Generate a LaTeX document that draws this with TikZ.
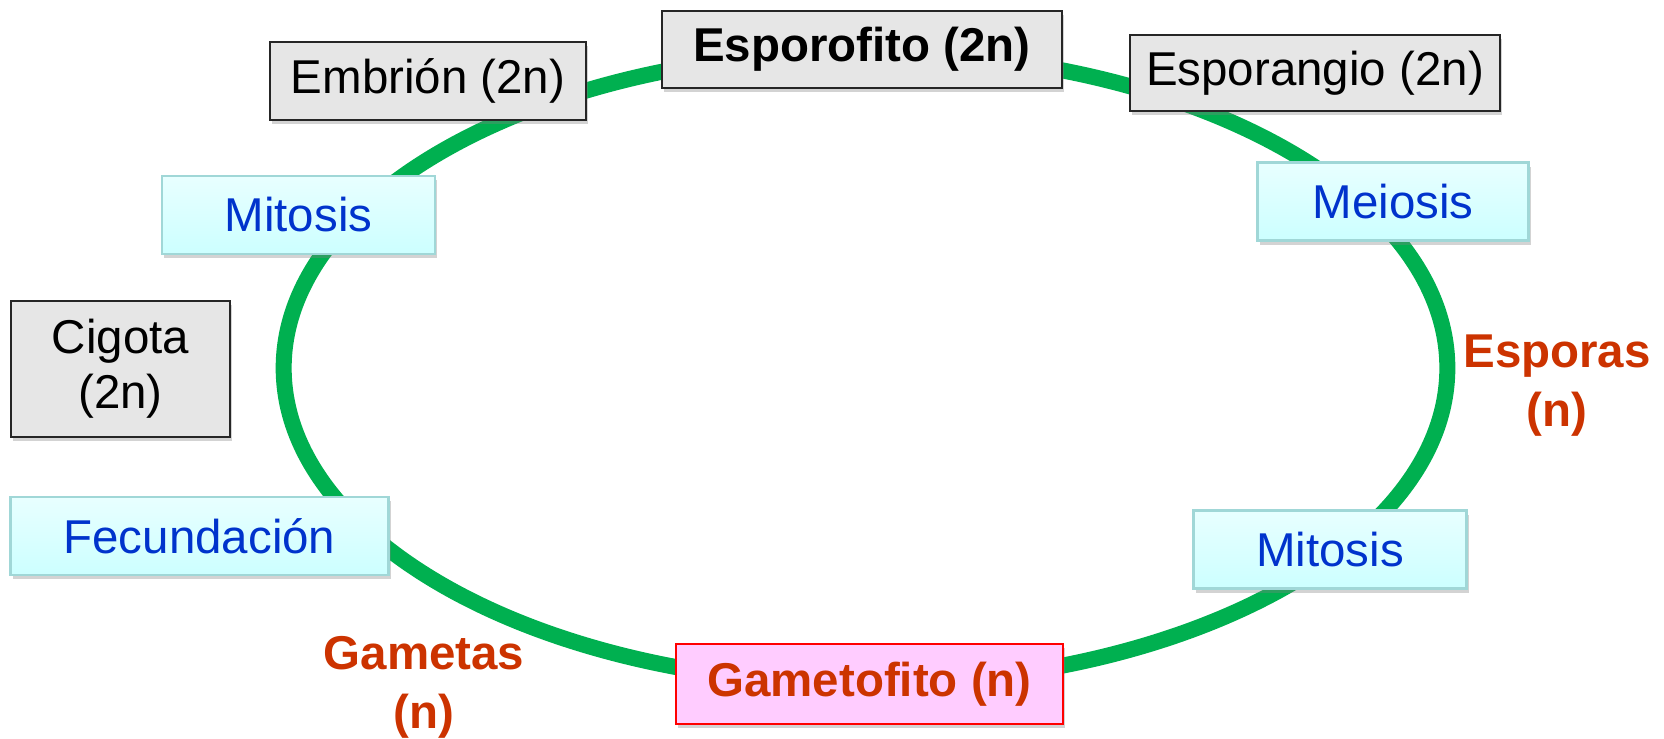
\documentclass[tikz,border=0pt]{standalone}
\usepackage{fontspec}
\setmainfont{Liberation Sans}
\usetikzlibrary{shadows}
\definecolor{verdeciclo}{RGB}{0,176,80}
\definecolor{gris}{RGB}{230,230,230}
\definecolor{cianA}{RGB}{232,255,255}
\definecolor{cianB}{RGB}{204,255,255}
\definecolor{bordecian}{RGB}{160,215,215}
\definecolor{azul}{RGB}{0,51,204}
\definecolor{rojo}{RGB}{204,51,0}
\definecolor{rosa}{RGB}{255,204,255}

\begin{document}
\begin{tikzpicture}[x=0.01cm,y=-0.01cm] %% 1 unit = 1 px
	\tikzstyle{caja}=[draw=black!85,line width=0.7pt,fill=gris,inner sep=0pt,font=\fontsize{13.5}{15.6}\selectfont,drop shadow={shadow xshift=0.6pt,shadow yshift=-1.2pt,opacity=0.35}];
	\tikzstyle{proceso}=[caja,draw=bordecian,top color=cianA,bottom color=cianB,text=azul,minimum width=2.73cm,minimum height=0.78cm];
	\tikzstyle{etiqueta}=[text=rojo,font=\bfseries\fontsize{13.5}{16.8}\selectfont,align=center,inner sep=0pt];
	\useasboundingbox (0,0) rectangle (1664,738);
	%% the cycle
	\coordinate (centro) at (865.5,368);
	\draw[verdeciclo,line width=4.55pt] (centro) ellipse [x radius=5.815cm,y radius=3.16cm];
	%% phases (2n)
	\node[caja,minimum width=4cm,minimum height=0.77cm,font=\bfseries\fontsize{13.5}{15.6}\selectfont] (esporofito) at (862,49.5) {Esporofito (2n)};
	\node[caja,minimum width=3.16cm,minimum height=0.78cm] (embrion) at (428,81) {Embrión (2n)};
	\node[caja,minimum width=3.7cm,minimum height=0.76cm] (esporangio) at (1315,73) {Esporangio (2n)};
	\node[caja,minimum width=2.19cm,minimum height=1.36cm,align=center] (cigota) at (120.5,369) {Cigota\\(2n)};
	%% processes
	\node[proceso] (mitosisizq) at (298.5,215) {Mitosis};
	\node[proceso,minimum width=2.71cm] (meiosis) at (1393,201.5) {Meiosis};
	\node[proceso,minimum width=3.78cm] (fecundacion) at (199.5,536) {Fecundación};
	\node[proceso] (mitosisder) at (1330,549.5) {Mitosis};
	%% phase (n)
	\node[caja,draw=red,fill=rosa,text=rojo,minimum width=3.87cm,minimum height=0.8cm,font=\bfseries\fontsize{13.5}{15.6}\selectfont] (gametofito) at (869.5,684) {Gametofito (n)};
	\node[etiqueta] (esporas) at (1557,385.5) {Esporas\\(n)};
	\node[etiqueta] (gametas) at (424,687) {Gametas\\(n)};
\end{tikzpicture}
\end{document}
